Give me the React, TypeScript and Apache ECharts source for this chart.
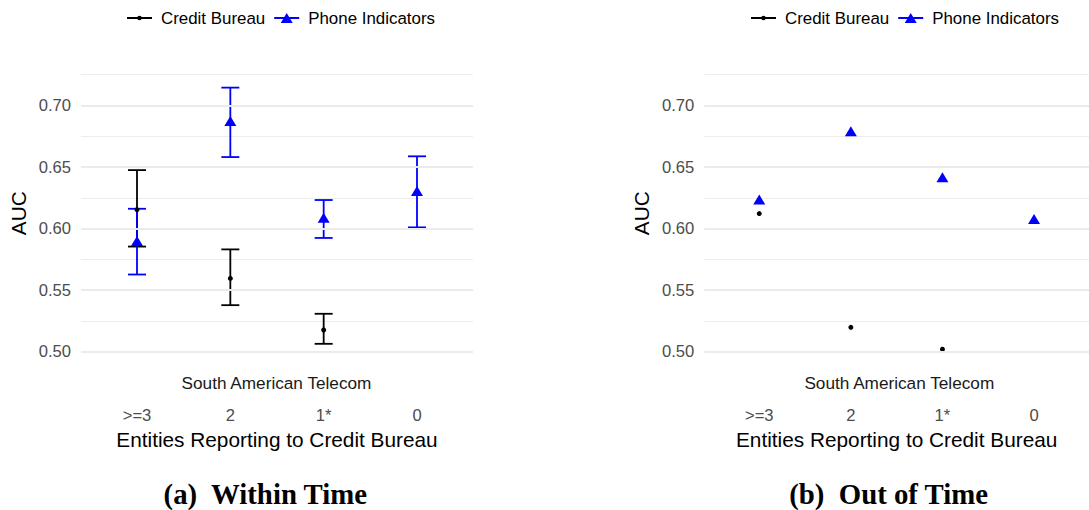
import React, { useEffect, useRef } from "react";
import * as echarts from "echarts";

// ---- data ----
const categories = [">=3", "2", "1*", "0"];
const seriesNames = ["Credit Bureau", "Phone Indicators"];
const stripLabel = "South American Telecom";
const xTitle = "Entities Reporting to Credit Bureau";
const yTitle = "AUC";
const captions = ["(a)  Within Time", "(b)  Out of Time"];
const majorTicks = [0.5, 0.55, 0.6, 0.65, 0.7];

// Within time (panel a)
const withinCB = [0.6154, 0.5595, 0.5176, null];
const withinCBLow = [0.5854, 0.5378, 0.5064, null];
const withinCBHigh = [0.6475, 0.5831, 0.5308, null];
const withinPhone = [0.5899, 0.6873, 0.6088, 0.6305];
const withinPhoneLow = [0.5627, 0.6581, 0.5924, 0.601];
const withinPhoneHigh = [0.6161, 0.7145, 0.6232, 0.6587];

// Out of time (panel b)
const outCB = [0.6122, 0.5198, 0.502, null];
const outPhone = [0.6236, 0.679, 0.6417, 0.6078];

const FONT = "Liberation Sans";
const BLUE = "#0000ff";
const BLACK = "#000000";

const cbIcon =
  "path://M12.5,0L12.51,0ZM12.5,10L12.51,10ZM0,4.1L25,4.1L25,5.9L0,5.9ZM10.2,5A2.3,2.3 0 1 1 14.8,5A2.3,2.3 0 1 1 10.2,5Z";
const phIcon =
  "path://M0,4.1L25,4.1L25,5.9L0,5.9ZM12.5,0L18.5,10L6.5,10Z";

function pts(vals: (number | null)[]) {
  const out: number[][] = [];
  vals.forEach((v, i) => {
    if (v !== null) out.push([i, v]);
  });
  return out;
}
function bars(lo: (number | null)[], hi: (number | null)[]) {
  const out: number[][] = [];
  lo.forEach((v, i) => {
    const h = hi[i];
    if (v !== null && h !== null) out.push([i, v, h]);
  });
  return out;
}

function errorRender(color: string) {
  return (params: any, api: any) => {
    const x = api.value(0);
    const lo = api.value(1);
    const hi = api.value(2);
    const a = api.coord([x, lo]);
    const b = api.coord([x, hi]);
    const hw = 9;
    const st = { stroke: color, lineWidth: 1.8 };
    return {
      type: "group",
      children: [
        { type: "line", shape: { x1: a[0], y1: a[1], x2: b[0], y2: b[1] }, style: st },
        { type: "line", shape: { x1: a[0] - hw, y1: a[1], x2: a[0] + hw, y2: a[1] }, style: st },
        { type: "line", shape: { x1: b[0] - hw, y1: b[1], x2: b[0] + hw, y2: b[1] }, style: st },
      ],
    };
  };
}

function xAxis(gridIndex: number) {
  return {
    type: "value",
    gridIndex,
    min: -0.6,
    max: 3.6,
    axisLine: { show: false },
    axisTick: { show: false },
    splitLine: { show: false },
    axisLabel: {
      customValues: [0, 1, 2, 3],
      formatter: (v: number) => categories[Math.round(v)] ?? "",
      fontFamily: FONT,
      fontSize: 16.6,
      color: "#4d4d4d",
      margin: 55,
    },
    name: xTitle,
    nameLocation: "middle",
    nameGap: 76,
    nameTextStyle: { fontFamily: FONT, fontSize: 20.8, color: BLACK },
  };
}

function yAxis(gridIndex: number) {
  return {
    type: "value",
    gridIndex,
    min: 0.5,
    max: 0.725,
    interval: 0.025,
    axisLine: { show: false },
    axisTick: { show: false },
    splitLine: { show: true, lineStyle: { color: "#ededed", width: 1.2 } },
    axisLabel: {
      formatter: (v: number) =>
        Math.abs(v * 20 - Math.round(v * 20)) < 1e-6 ? v.toFixed(2) : "",
      fontFamily: FONT,
      fontSize: 16.6,
      color: "#4d4d4d",
      margin: 10,
    },
    name: yTitle,
    nameLocation: "middle",
    nameGap: 52,
    nameTextStyle: { fontFamily: FONT, fontSize: 20.8, color: BLACK },
  };
}

function majorGrid(idx: number) {
  return {
    type: "line",
    name: "major" + idx,
    xAxisIndex: idx,
    yAxisIndex: idx,
    data: [],
    silent: true,
    markLine: {
      silent: true,
      symbol: "none",
      label: { show: false },
      lineStyle: { color: "#ebebeb", width: 2, type: "solid", opacity: 1 },
      data: majorTicks.map((t) => ({ yAxis: t })),
    },
  };
}

function legend(left: number) {
  return {
    left,
    top: 8,
    padding: 0,
    itemWidth: 25,
    itemHeight: 10,
    itemGap: 9,
    selectedMode: false,
    textStyle: {
      fontFamily: FONT,
      fontSize: 16.9,
      color: BLACK,
      lineHeight: 20,
      padding: [0, 0, 0, 4],
    },
    data: [
      { name: seriesNames[0], icon: cbIcon, itemStyle: { opacity: 1 } },
      { name: seriesNames[1], icon: phIcon, itemStyle: { opacity: 1 } },
    ],
  };
}

function scatter(idx: number, name: string, vals: (number | null)[], isTri: boolean) {
  return {
    type: "scatter",
    name,
    xAxisIndex: idx,
    yAxisIndex: idx,
    symbol: isTri ? "triangle" : "circle",
    symbolSize: isTri ? [12, 10] : 5,
    itemStyle: { color: isTri ? BLUE : BLACK, opacity: 1 },
    emphasis: { disabled: true },
    data: pts(vals),
  };
}

function errSeries(idx: number, name: string, lo: (number | null)[], hi: (number | null)[], color: string) {
  return {
    type: "custom",
    name,
    xAxisIndex: idx,
    yAxisIndex: idx,
    renderItem: errorRender(color),
    encode: { x: 0, y: [1, 2] },
    data: bars(lo, hi),
    silent: true,
  };
}

export default function App() {
  const ref = useRef<HTMLDivElement>(null);
  useEffect(() => {
    if (!ref.current) return;
    const chart = echarts.init(ref.current, null, { renderer: "svg" });
    const capStyle = {
      fontFamily: "Liberation Serif",
      fontWeight: "bold",
      fontSize: 28.8,
      fill: BLACK,
      align: "center",
      verticalAlign: "middle",
    };
    const stripStyle = {
      fontFamily: FONT,
      fontSize: 17.2,
      fill: "#1a1a1a",
      align: "center",
      verticalAlign: "middle",
    };
    const option: any = {
      animation: false,
      backgroundColor: "#ffffff",
      legend: [legend(127), legend(751)],
      grid: [
        { left: 81, top: 74.7, width: 392, height: 277, containLabel: false },
        { left: 704.3, top: 74.7, width: 392, height: 277, containLabel: false },
      ],
      xAxis: [xAxis(0), xAxis(1)],
      yAxis: [yAxis(0), yAxis(1)],
      series: [
        majorGrid(0),
        majorGrid(1),
        errSeries(0, "cb-err", withinCBLow, withinCBHigh, BLACK),
        scatter(0, seriesNames[0], withinCB, false),
        errSeries(0, "ph-err", withinPhoneLow, withinPhoneHigh, BLUE),
        scatter(0, seriesNames[1], withinPhone, true),
        scatter(1, seriesNames[0], outCB, false),
        scatter(1, seriesNames[1], outPhone, true),
      ],
      graphic: [
        { type: "text", x: 276.5, y: 382.7, style: { text: stripLabel, ...stripStyle } },
        { type: "text", x: 899.3, y: 382.7, style: { text: stripLabel, ...stripStyle } },
        { type: "text", x: 265.3, y: 493.5, style: { text: captions[0], ...capStyle } },
        { type: "text", x: 888.6, y: 493.5, style: { text: captions[1], ...capStyle } },
      ],
    };
    chart.setOption(option);
    return () => chart.dispose();
  }, []);
  return (
    <div
      ref={ref}
      style={{ position: "fixed", left: 0, top: 0, width: 1089, height: 510 }}
    />
  );
}
